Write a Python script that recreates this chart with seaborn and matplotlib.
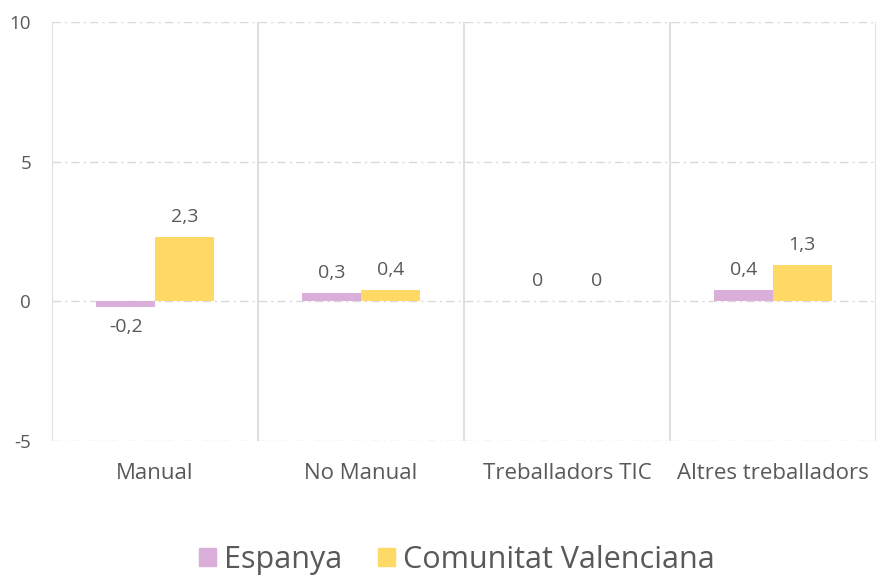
import matplotlib
matplotlib.use("Agg")
import matplotlib.pyplot as plt
import seaborn as sns
import pandas as pd

categories = ["Manual", "No Manual", "Treballadors TIC", "Altres treballadors"]
series_names = ["Espanya", "Comunitat Valenciana"]
espanya = [-0.2, 0.3, 0.0, 0.4]
cv = [2.3, 0.4, 0.0, 1.3]
yticks = [-5, 0, 5, 10]
colors = ["#D9AED9", "#FFD966"]

df = pd.DataFrame({
    "cat": categories * 2,
    "serie": [series_names[0]] * 4 + [series_names[1]] * 4,
    "val": espanya + cv,
})

sns.set_style("white")
plt.rcParams["font.family"] = ["Open Sans", "DejaVu Sans"]
txt = "#595959"
grid = "#D9D9D9"

fig = plt.figure(figsize=(8.82, 5.8), dpi=100)
ax = fig.add_axes([0.059, 0.2397, 0.934, 0.7223])
sns.barplot(data=df, x="cat", y="val", hue="serie", palette=colors,
            width=0.57, ax=ax, legend=False, saturation=1, linewidth=0, zorder=2)

ax.set_ylim(-5, 10)
ax.set_xlim(-0.5, len(categories) - 0.5)
ax.set_yticks(yticks)
ax.set_yticklabels([str(t) for t in yticks])
for t in yticks:
    ax.axhline(t, color=grid, lw=1, ls=(0, (6, 3, 1.5, 3)), zorder=0)
for x in [i - 0.5 for i in range(len(categories) + 1)]:
    ax.axvline(x, color=grid, lw=1.2, zorder=0)
for s in ax.spines.values():
    s.set_visible(False)
ax.set_xlabel("")
ax.set_ylabel("")
ax.tick_params(axis="both", length=0, colors=txt, labelsize=13.5)
ax.tick_params(axis="x", pad=16, labelsize=16)
ax.tick_params(axis="y", pad=15)

for cont in ax.containers:
    labels = [("%g" % b.get_height()).replace(".", ",") if abs(b.get_height()) > 1e-9 else "0"
              for b in cont]
    ax.bar_label(cont, labels=labels, padding=8, color=txt, fontsize=14)

handles = [plt.Rectangle((0, 0), 1, 1, color=c) for c in colors]
fig.legend(handles, series_names, loc="center", ncol=2, frameon=False,
           fontsize=22, bbox_to_anchor=(0.518, 0.035), handlelength=0.55,
           handleheight=0.55, handletextpad=0.25, columnspacing=1.2, labelcolor=txt,
           borderpad=0, borderaxespad=0)

fig.savefig("out.png", dpi=100)
